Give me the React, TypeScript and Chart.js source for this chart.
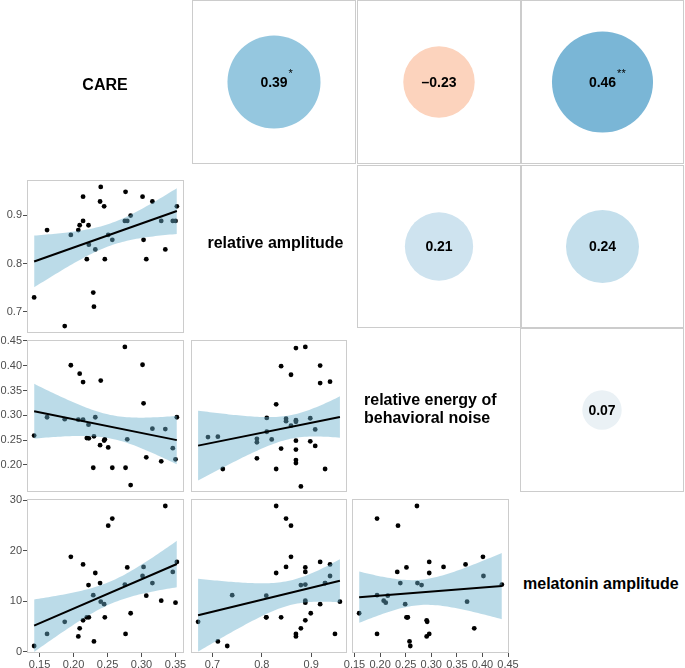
import React, { useEffect, useRef } from "react";
import { Chart, registerables } from "chart.js";

Chart.register(...registerables);

// ---------------- data ----------------
const variableNames = [
  "CARE",
  "relative amplitude",
  "relative energy of\nbehavioral noise",
  "melatonin amplitude",
];

const care = [0.142, 0.161, 0.187, 0.196, 0.207, 0.209, 0.214, 0.214, 0.2195, 0.2225, 0.222, 0.229, 0.23, 0.232, 0.239, 0.24, 0.245, 0.246, 0.251, 0.257, 0.2755, 0.2765, 0.279, 0.284, 0.3015, 0.303, 0.307, 0.316, 0.329, 0.335, 0.346, 0.35, 0.352];
const relativeAmplitude = [0.73, 0.869, 0.671, 0.859, 0.869, 0.879, 0.938, 0.888, 0.809, 0.839, 0.879, 0.74, 0.711, 0.829, 0.928, 0.958, 0.918, 0.809, 0.859, 0.849, 0.888, 0.948, 0.888, 0.899, 0.938, 0.849, 0.809, 0.928, 0.888, 0.829, 0.888, 0.888, 0.918];
const behavioralNoise = [0.259, 0.296, 0.292, 0.401, 0.291, 0.384, 0.367, 0.291, 0.254, 0.2535, 0.281, 0.194, 0.2575, 0.296, 0.2395, 0.37, 0.249, 0.2515, 0.235, 0.194, 0.438, 0.194, 0.2515, 0.159, 0.402, 0.324, 0.215, 0.273, 0.207, 0.272, 0.2335, 0.211, 0.296];
const melatoninAmplitude = [1.1, 3.5, 5.9, 18.8, 3.0, 4.6, 17.3, 6.2, 6.8, 6.8, 13.2, 11.2, 2.0, 15.6, 13.6, 9.9, 9.4, 6.8, 25.0, 26.4, 13.3, 3.5, 16.7, 7.6, 15.0, 16.8, 11.1, 13.6, 10.1, 28.9, 15.8, 9.7, 17.8];

// points as drawn in the "relative amplitude" x "behavioral noise" panel
const relativeAmplitudePanel = [0.691, 0.711, 0.721, 0.79, 0.79, 0.79, 0.81, 0.81, 0.82, 0.829, 0.829, 0.839, 0.839, 0.849, 0.849, 0.859, 0.859, 0.869, 0.869, 0.869, 0.869, 0.869, 0.869, 0.869, 0.879, 0.888, 0.898, 0.898, 0.908, 0.908, 0.918, 0.918, 0.928, 0.938];
const behavioralNoisePanel = [0.256, 0.2567, 0.1915, 0.213, 0.2525, 0.2455, 0.2946, 0.2667, 0.2513, 0.322, 0.1915, 0.399, 0.2328, 0.293, 0.288, 0.3818, 0.279, 0.4357, 0.29, 0.2867, 0.2487, 0.2308, 0.2095, 0.2035, 0.1564, 0.438, 0.294, 0.2474, 0.2713, 0.238, 0.4003, 0.365, 0.1915, 0.3678];

const corrValues = [0.39, -0.23, 0.46, 0.21, 0.24, 0.07];
const corrStars = ["*", "", "**", "", "", ""];

const careTicks = ["0.15", "0.20", "0.25", "0.30", "0.35"];
const ampTicks = ["0.7", "0.8", "0.9"];
const noiseXTicks = ["0.15", "0.20", "0.25", "0.30", "0.35", "0.40", "0.45"];
const noiseYTicks = ["0.20", "0.25", "0.30", "0.35", "0.40", "0.45"];
const melTicks = ["0", "10", "20", "30"];

// ---------------- layout & style ----------------
const FONT = '"Liberation Sans", Arial, Helvetica, sans-serif';
const PAD = 14;
const Y_AXIS_W = 27;
const X_AXIS_H = 15;
const FRAME = "#cccccc";
const TICK = "#4d4d4d";
const BAND = "rgba(104,175,204,0.45)";
const RDBU = ["#67001f", "#b2182b", "#d6604d", "#f4a582", "#fddbc7", "#f7f7f7", "#d1e5f0", "#92c5de", "#4393c3", "#2166ac", "#053061"];

const columnVars = [care, relativeAmplitude, behavioralNoise];
const rowVars = [null, relativeAmplitude, behavioralNoise, melatoninAmplitude];
const columnTicks = [careTicks, ampTicks, noiseXTicks];
const rowTicks = [null, ampTicks, noiseYTicks, melTicks];
const scatterCols = [[27, 184], [191, 347], [352, 509]];
const scatterRows = [null, [180, 333], [340, 492], [499, 653]];

// each panel: the points drawn, and the series the smoother is fitted to
const scatterPanels = [
  { row: 1, col: 0, xs: care, ys: relativeAmplitude, fx: care, fy: relativeAmplitude },
  { row: 2, col: 0, xs: care, ys: behavioralNoise, fx: care, fy: behavioralNoise },
  { row: 3, col: 0, xs: care, ys: melatoninAmplitude, fx: care, fy: melatoninAmplitude },
  { row: 2, col: 1, xs: relativeAmplitudePanel, ys: behavioralNoisePanel, fx: relativeAmplitude, fy: behavioralNoise },
  { row: 3, col: 1, xs: relativeAmplitude, ys: melatoninAmplitude, fx: relativeAmplitude, fy: melatoninAmplitude },
  { row: 3, col: 2, xs: behavioralNoise, ys: melatoninAmplitude, fx: behavioralNoise, fy: melatoninAmplitude },
];

const upperBoxes = [
  [192, 0, 356, 164],
  [357, 0, 521, 164],
  [521, 0, 684, 164],
  [357, 165, 521, 328],
  [521, 165, 684, 328],
  [520, 328, 684, 492],
];

const diagLabels = [
  { left: 0, top: 76, width: 210, align: "center" },
  { left: 193, top: 234, width: 165, align: "center" },
  { left: 364, top: 391, width: 160, align: "left" },
  { left: 523, top: 575, width: 165, align: "left" },
];

// ---------------- helpers ----------------
function extent(v: number[]) {
  return [Math.min(...v), Math.max(...v)];
}
function expanded(v: number[]) {
  const [a, b] = extent(v);
  const s = b - a;
  return [a - 0.05 * s, b + 0.05 * s];
}
function hexToRgb(h: string) {
  const n = parseInt(h.slice(1), 16);
  return [(n >> 16) & 255, (n >> 8) & 255, n & 255];
}
function rdbu(r: number) {
  const pos = ((r + 1) / 2) * (RDBU.length - 1);
  const i = Math.min(Math.floor(pos), RDBU.length - 2);
  const f = pos - i;
  const a = hexToRgb(RDBU[i]);
  const b = hexToRgb(RDBU[i + 1]);
  const c = a.map((v, k) => Math.round(v + (b[k] - v) * f));
  return `rgb(${c[0]},${c[1]},${c[2]})`;
}

function fit(xs: number[], ys: number[], x0: number, x1: number) {
  const n = xs.length;
  const mx = xs.reduce((s, v) => s + v, 0) / n;
  const my = ys.reduce((s, v) => s + v, 0) / n;
  let sxx = 0, sxy = 0;
  for (let i = 0; i < n; i++) {
    sxx += (xs[i] - mx) ** 2;
    sxy += (xs[i] - mx) * (ys[i] - my);
  }
  const b = sxy / sxx;
  const a = my - b * mx;
  let sse = 0;
  for (let i = 0; i < n; i++) sse += (ys[i] - a - b * xs[i]) ** 2;
  const s2 = sse / (n - 2);
  const t = 1.96 + 2.5 / (n - 2);
  const upper: { x: number; y: number }[] = [];
  const lower: { x: number; y: number }[] = [];
  const steps = 60;
  for (let k = 0; k <= steps; k++) {
    const x = x0 + ((x1 - x0) * k) / steps;
    const yh = a + b * x;
    const se = Math.sqrt(s2 * (1 / n + (x - mx) ** 2 / sxx));
    upper.push({ x, y: yh + t * se });
    lower.push({ x, y: yh - t * se });
  }
  return {
    line: [{ x: x0, y: a + b * x0 }, { x: x1, y: a + b * x1 }],
    upper,
    lower,
  };
}

function strokeFrame(ctx: any, left: number, top: number, right: number, bottom: number) {
  ctx.save();
  ctx.strokeStyle = FRAME;
  ctx.lineWidth = 1;
  ctx.strokeRect(Math.round(left) + 0.5, Math.round(top) + 0.5, Math.round(right - left) - 1, Math.round(bottom - top) - 1);
  ctx.restore();
}

const areaFramePlugin = {
  id: "areaFrame",
  afterDraw(chart: any) {
    const { left, top, right, bottom } = chart.chartArea;
    strokeFrame(chart.ctx, left, top, right, bottom);
  },
};

const canvasFramePlugin = {
  id: "canvasFrame",
  afterDraw(chart: any) {
    strokeFrame(chart.ctx, 0, 0, chart.width, chart.height);
  },
};

function axis(labels: string[] | null, horizontal: boolean, range: number[]) {
  const show = !!labels;
  return {
    type: "linear",
    min: range[0],
    max: range[1],
    display: show,
    border: { display: false },
    grid: { display: show, drawOnChartArea: false, drawTicks: true, tickLength: 4, color: TICK },
    ticks: {
      display: show,
      color: TICK,
      font: { size: 11, family: FONT },
      padding: 1,
      autoSkip: false,
      maxRotation: 0,
      minRotation: 0,
      callback: (_v: any, i: number) => (labels ? labels[i] : ""),
    },
    afterBuildTicks: (s: any) => {
      if (labels) s.ticks = labels.map((l) => ({ value: Number(l) }));
    },
    afterFit: (s: any) => {
      if (!show) return;
      if (horizontal) {
        s.height = X_AXIS_H;
        s.paddingLeft = 0;
        s.paddingRight = 0;
      } else {
        s.width = Y_AXIS_W;
        s.paddingTop = 0;
        s.paddingBottom = 0;
      }
    },
  };
}

function scatterConfig(p: any) {
  const xr = expanded(columnVars[p.col]);
  const yr = expanded(rowVars[p.row] as number[]);
  const [x0, x1] = extent(p.fx);
  const f = fit(p.fx, p.fy, x0, x1);
  const hasY = p.col === 0;
  const hasX = p.row === 3;
  return {
    type: "scatter",
    data: {
      datasets: [
        { type: "line", data: f.line, borderColor: "#000", borderWidth: 2, pointRadius: 0, fill: false, order: 0, clip: false },
        { type: "line", data: f.upper, borderWidth: 0, borderColor: "rgba(0,0,0,0)", pointRadius: 0, fill: "+1", backgroundColor: BAND, order: 1 },
        { type: "line", data: f.lower, borderWidth: 0, borderColor: "rgba(0,0,0,0)", pointRadius: 0, fill: false, order: 1 },
        {
          type: "scatter",
          data: p.xs.map((x: number, i: number) => ({ x, y: p.ys[i] })),
          backgroundColor: "#000",
          borderWidth: 0,
          pointRadius: 2.4,
          order: 2,
          clip: false,
        },
      ],
    },
    options: {
      animation: false,
      responsive: false,
      maintainAspectRatio: false,
      events: [],
      layout: { padding: { left: hasY ? 0 : PAD, right: PAD, top: PAD, bottom: hasX ? 0 : PAD } },
      plugins: { legend: { display: false }, tooltip: { enabled: false } },
      scales: {
        x: axis(hasX ? columnTicks[p.col] : null, true, xr),
        y: axis(hasY ? (rowTicks[p.row] as string[]) : null, false, yr),
      },
    },
    plugins: [areaFramePlugin],
  };
}

function corrConfig(i: number) {
  const r = corrValues[i];
  const label = r.toFixed(2).replace("-", "\u2013");
  const stars = corrStars[i];
  return {
    type: "bubble",
    data: {
      datasets: [
        {
          data: [{ x: 0, y: 0, r: 74.5 * Math.sqrt(Math.abs(r)) }],
          backgroundColor: rdbu(r),
          borderWidth: 0,
          clip: false,
        },
      ],
    },
    options: {
      animation: false,
      responsive: false,
      maintainAspectRatio: false,
      events: [],
      layout: { padding: 0 },
      plugins: { legend: { display: false }, tooltip: { enabled: false } },
      scales: {
        x: { display: false, min: -1, max: 1 },
        y: { display: false, min: -1, max: 1 },
      },
    },
    plugins: [
      canvasFramePlugin,
      {
        id: "corrText",
        afterDatasetsDraw(chart: any) {
          const el = chart.getDatasetMeta(0).data[0];
          const ctx = chart.ctx;
          ctx.save();
          ctx.fillStyle = "#000";
          ctx.font = `bold 14px ${FONT}`;
          ctx.textAlign = "center";
          ctx.textBaseline = "middle";
          ctx.fillText(label, el.x, el.y + 1);
          if (stars) {
            const w = ctx.measureText(label).width;
            ctx.font = `11px ${FONT}`;
            ctx.textAlign = "left";
            ctx.fillText(stars, el.x + w / 2 + 1, el.y - 8);
          }
          ctx.restore();
        },
      },
    ],
  };
}

function ChartCanvas({ x, y, w, h, make }: { x: number; y: number; w: number; h: number; make: () => any }) {
  const ref = useRef<HTMLCanvasElement | null>(null);
  useEffect(() => {
    const chart = new Chart(ref.current as HTMLCanvasElement, make());
    return () => chart.destroy();
  }, []);
  return (
    <canvas
      ref={ref}
      width={w}
      height={h}
      style={{ position: "absolute", left: x, top: y, width: w, height: h }}
    />
  );
}

export default function App() {
  return (
    <div
      style={{
        position: "absolute",
        left: 0,
        top: 0,
        width: 685,
        height: 668,
        background: "#fff",
        overflow: "hidden",
        fontFamily: FONT,
      }}
    >
      {upperBoxes.map((b, i) => (
        <ChartCanvas key={"c" + i} x={b[0]} y={b[1]} w={b[2] - b[0]} h={b[3] - b[1]} make={() => corrConfig(i)} />
      ))}
      {scatterPanels.map((p, i) => {
        const [l, r] = scatterCols[p.col];
        const [t, b] = scatterRows[p.row] as number[];
        const hasY = p.col === 0;
        const hasX = p.row === 3;
        const left = l - (hasY ? Y_AXIS_W : PAD);
        const top = t - PAD;
        const w = r - left + PAD;
        const h = b - top + (hasX ? X_AXIS_H : PAD);
        return <ChartCanvas key={"s" + i} x={left} y={top} w={w} h={h} make={() => scatterConfig(p)} />;
      })}
      {diagLabels.map((d, i) => (
        <div
          key={"d" + i}
          style={{
            position: "absolute",
            left: d.left,
            top: d.top,
            width: d.width,
            textAlign: d.align as any,
            fontWeight: "bold",
            fontSize: 16,
            lineHeight: "18px",
            whiteSpace: "pre-line",
            color: "#000",
          }}
        >
          {variableNames[i]}
        </div>
      ))}
    </div>
  );
}
